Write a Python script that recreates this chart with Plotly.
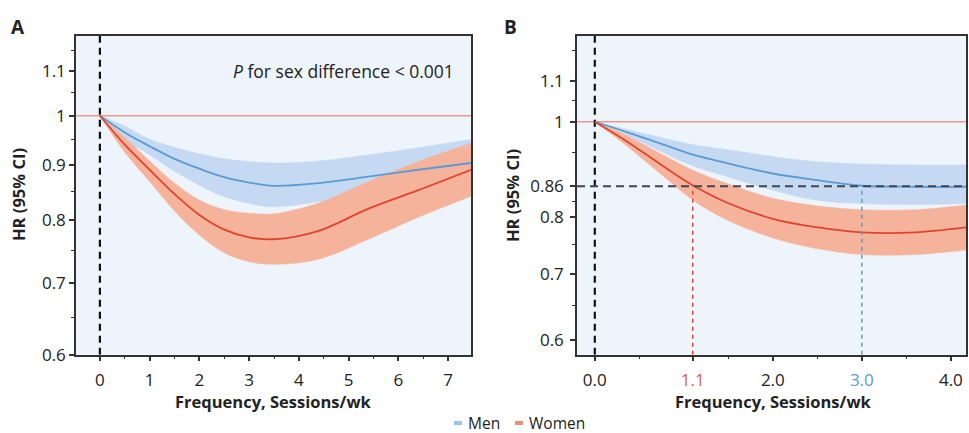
import math
import plotly.graph_objects as go

# ---------------- data ----------------
# Panel A: frequency (sessions/wk)
a_x = [0, 0.5, 1, 1.5, 2, 2.5, 3, 3.5, 4.4, 5.4, 6.4, 7.46]
a_men = [1, 0.965, 0.937, 0.912, 0.893, 0.877, 0.867, 0.861, 0.866, 0.878, 0.891, 0.904]
a_men_hi = [1, 0.978, 0.951, 0.935, 0.922, 0.912, 0.907, 0.904, 0.908, 0.920, 0.934, 0.951]
a_men_lo = [1, 0.950, 0.920, 0.888, 0.862, 0.841, 0.829, 0.823, 0.832, 0.847, 0.862, 0.875]
a_wom = [1, 0.940, 0.891, 0.846, 0.809, 0.784, 0.771, 0.768, 0.782, 0.820, 0.853, 0.891]
a_wom_hi = [1, 0.955, 0.908, 0.866, 0.835, 0.818, 0.812, 0.811, 0.830, 0.869, 0.907, 0.943]
a_wom_lo = [1, 0.925, 0.869, 0.816, 0.775, 0.746, 0.732, 0.728, 0.736, 0.768, 0.805, 0.842]

# Panel B
b_x = [0, 0.36, 0.74, 1.1, 1.48, 2.0, 2.47, 3.0, 3.6, 4.17]
b_men = [1, 0.976, 0.950, 0.926, 0.908, 0.886, 0.873, 0.861, 0.859, 0.859]
b_men_hi = [1, 0.982, 0.964, 0.948, 0.937, 0.922, 0.911, 0.906, 0.904, 0.904]
b_men_lo = [1, 0.969, 0.933, 0.902, 0.880, 0.852, 0.833, 0.826, 0.824, 0.826]
b_wom = [1, 0.955, 0.905, 0.862, 0.828, 0.797, 0.782, 0.772, 0.772, 0.781]
b_wom_hi = [1, 0.968, 0.928, 0.893, 0.866, 0.836, 0.822, 0.814, 0.814, 0.823]
b_wom_lo = [1, 0.945, 0.885, 0.833, 0.795, 0.762, 0.744, 0.733, 0.733, 0.741]

b_thr = 0.86
b_wom_at = 1.1
b_men_at = 3.0

a_xticks = [0, 1, 2, 3, 4, 5, 6, 7]
a_yticks = [0.6, 0.7, 0.8, 0.9, 1, 1.1]
a_yticktext = ["0.6", "0.7", "0.8", "0.9", "1", "1.1"]
b_xticks = [0, 1.1, 2, 3, 4]
b_yticks = [0.6, 0.7, 0.8, 0.86, 1, 1.1]
b_yticktext = ["0.6", "0.7", "0.8", "0.86", "1", "1.1"]

a_xrange = [-0.48, 7.46]
a_yrange = [0.6, 1.186]
b_xrange = [-0.2, 4.17]
b_yrange = [0.58, 1.222]

# ---------------- styles ----------------
FONT = "Open Sans"
C_MEN = "#5b9bd5"
C_MEN_BAND = "#c5daf2"
C_WOM = "#e0452c"
C_WOM_BAND = "#f6b39c"
C_REF = "#f3968a"
BG = "#eef4fb"
AX = "#333333"

fig = go.Figure()


def band(x, lo, hi, color, xa, ya):
    fig.add_trace(go.Scatter(
        x=x, y=lo, mode="lines", line=dict(color=color, width=0.5, shape="spline", smoothing=1),
        xaxis=xa, yaxis=ya, showlegend=False, hoverinfo="skip"))
    fig.add_trace(go.Scatter(
        x=x, y=hi, mode="lines", fill="tonexty", fillcolor=color,
        line=dict(color=color, width=0.5, shape="spline", smoothing=1),
        xaxis=xa, yaxis=ya, showlegend=False, hoverinfo="skip"))


def line(x, y, color, xa, ya, width=1.8, dash="solid"):
    fig.add_trace(go.Scatter(
        x=x, y=y, mode="lines",
        line=dict(color=color, width=width, dash=dash, shape="spline", smoothing=1),
        xaxis=xa, yaxis=ya, showlegend=False, hoverinfo="skip"))


def straight(x, y, color, xa, ya, width=1.5, dash="solid"):
    fig.add_trace(go.Scatter(
        x=x, y=y, mode="lines", line=dict(color=color, width=width, dash=dash),
        xaxis=xa, yaxis=ya, showlegend=False, hoverinfo="skip"))


# Panel A
band(a_x, a_men_lo, a_men_hi, C_MEN_BAND, "x", "y")
band(a_x, a_wom_lo, a_wom_hi, C_WOM_BAND, "x", "y")
straight(a_xrange, [1, 1], C_REF, "x", "y", width=1.5)
straight([0, 0], a_yrange, "#111111", "x", "y", width=2.2, dash="7px,5px")
line(a_x, a_men, C_MEN, "x", "y")
line(a_x, a_wom, C_WOM, "x", "y")

# Panel B
band(b_x, b_men_lo, b_men_hi, C_MEN_BAND, "x2", "y2")
band(b_x, b_wom_lo, b_wom_hi, C_WOM_BAND, "x2", "y2")
straight(b_xrange, [1, 1], C_REF, "x2", "y2", width=1.5)
straight([0, 0], b_yrange, "#111111", "x2", "y2", width=2.2, dash="7px,5px")
line(b_x, b_men, C_MEN, "x2", "y2")
line(b_x, b_wom, C_WOM, "x2", "y2")
straight(b_xrange, [b_thr, b_thr], "#3f4652", "x2", "y2", width=2.2, dash="8px,5px")
straight([b_wom_at, b_wom_at], [b_yrange[0], b_thr], C_WOM, "x2", "y2", width=1.5, dash="4px,4px")
straight([b_men_at, b_men_at], [b_yrange[0], b_thr], C_MEN, "x2", "y2", width=1.5, dash="4px,4px")

H = 433
Y0, Y1 = 1 - 354.7 / H, 1 - 36 / H
axis_common = dict(showgrid=False, zeroline=False, showline=True, linecolor=AX, linewidth=1.5,
                   mirror=True, ticks="outside", ticklen=5, tickwidth=1.5, tickcolor=AX,
                   automargin=False,
                   tickfont=dict(family=FONT, size=17, color="#222222"))

fig.update_layout(
    width=969, height=H, autosize=False, margin=dict(l=0, r=0, t=0, b=0, pad=0),
    paper_bgcolor="white", plot_bgcolor=BG, showlegend=False,
    font=dict(family=FONT, color="#222222"),
    xaxis=dict(domain=[76 / 969, 471 / 969], range=a_xrange, tickmode="array", tickvals=a_xticks,
               ticklabelstandoff=4,
               minor=dict(tickvals=[0.5, 1.5, 2.5, 3.5, 4.5, 5.5, 6.5], ticks="outside", ticklen=3,
                          tickcolor=AX, tickwidth=1.2), anchor="y", **axis_common),
    yaxis=dict(domain=[Y0, Y1], type="log", range=[math.log10(a_yrange[0]), math.log10(a_yrange[1])],
               tickmode="array", tickvals=a_yticks, ticktext=a_yticktext,
               minor=dict(tickvals=[0.65, 0.75, 0.85, 0.95, 1.05, 1.15], ticks="outside", ticklen=3,
                          tickcolor=AX, tickwidth=1.2), anchor="x", **axis_common),
    xaxis2=dict(domain=[577 / 969, 966 / 969], range=b_xrange, tickmode="array", tickvals=b_xticks,
                ticktext=["0.0", '<span style="color:#e0604a">1.1</span>', "2.0",
                          '<span style="color:#5b9bd5">3.0</span>', "4.0"],
                ticklabelstandoff=4,
                minor=dict(tickvals=[0.5, 1.5, 2.5, 3.5], ticks="outside", ticklen=3,
                           tickcolor=AX, tickwidth=1.2), anchor="y2", **axis_common),
    yaxis2=dict(domain=[Y0, Y1], type="log", range=[math.log10(b_yrange[0]), math.log10(b_yrange[1])],
                tickmode="array", tickvals=b_yticks, ticktext=b_yticktext, ticklabelstandoff=3,
                minor=dict(tickvals=[0.65, 0.75, 0.83, 0.93, 1.05, 1.18], ticks="outside", ticklen=3,
                           tickcolor=AX, tickwidth=1.2), anchor="x2", **axis_common),
)

ann = [
    dict(text="<b>A</b>", x=18 / 969, y=1 - 27 / H, font=dict(size=19)),
    dict(text="<b>B</b>", x=510 / 969, y=1 - 27 / H, font=dict(size=19)),
    dict(text="<i>P</i> for sex difference < 0.001", x=456 / 969, y=1 - 71.5 / H,
         xanchor="right", font=dict(size=17.5)),
    dict(text="<b>HR (95% CI)</b>", x=18 / 969, y=1 - 195 / H, textangle=-90, font=dict(size=16.5)),
    dict(text="<b>HR (95% CI)</b>", x=512 / 969, y=1 - 195 / H, textangle=-90, font=dict(size=16.5)),
    dict(text="<b>Frequency, Sessions/wk</b>", x=273 / 969, y=1 - 401 / H, font=dict(size=16.5)),
    dict(text="<b>Frequency, Sessions/wk</b>", x=773 / 969, y=1 - 401 / H, font=dict(size=16.5)),
    dict(text="Men", x=466 / 969, y=1 - 423 / H, xanchor="left", font=dict(size=15.5)),
    dict(text="Women", x=527 / 969, y=1 - 423 / H, xanchor="left", font=dict(size=15.5)),
]
for a in ann:
    a.setdefault("xanchor", "center")
    a.update(xref="paper", yref="paper", yanchor="middle", showarrow=False)
    a["font"] = dict(family=FONT, color="#222222", **a["font"])
fig.update_layout(annotations=ann)

# legend swatches
fig.add_shape(type="rect", xref="paper", yref="paper", x0=454 / 969, x1=462 / 969,
              y0=1 - 425 / H, y1=1 - 421 / H, fillcolor="#9cc3ea", line=dict(width=0))
fig.add_shape(type="rect", xref="paper", yref="paper", x0=515 / 969, x1=523 / 969,
              y0=1 - 425 / H, y1=1 - 421 / H, fillcolor="#f0907a", line=dict(width=0))

fig.write_html("out.html", config={"displayModeBar": False, "responsive": False},
               post_script="document.body.style.margin='0';document.body.style.overflow='hidden';")
